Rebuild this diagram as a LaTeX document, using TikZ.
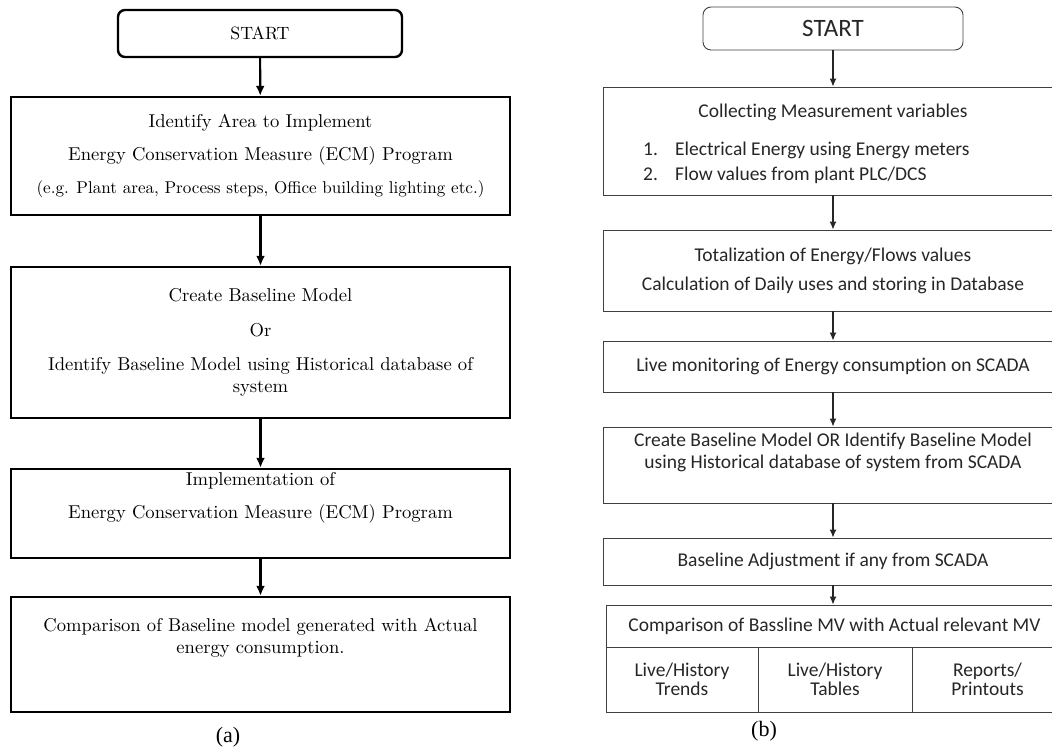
\documentclass[tikz,border=0pt]{standalone}
\usepackage{fontspec}
\usepackage{tikz}
\usetikzlibrary{shapes, calc, arrows, arrows.meta, positioning}
\newfontfamily\calibri[Ligatures=NoCommon]{Carlito}
\newfontfamily\timesfont{Liberation Serif}
\newfontfamily\lmten{lmroman10-regular}[Extension=.otf]

\begin{document}
\begin{tikzpicture}[->,>=latex,x=1pt,y=-1pt,auto]
	\tikzset{boxa/.style={draw, rectangle, line width=2.4pt, minimum width=499pt, inner sep=0pt, align=center, font=\lmten\fontsize{18.6}{22}\selectfont}}
	\tikzset{boxb/.style={draw=black!75, rectangle, line width=0.9pt, minimum width=460pt, inner sep=0pt, align=center, text=black!85, font=\calibri\fontsize{19.5}{23.5}\selectfont}}
	\tikzset{cellb/.style={boxb, minimum height=65pt, font=\calibri\fontsize{19.5}{19}\selectfont}}
	\tikzset{txta/.style={inner sep=0pt, align=center, font=\lmten\fontsize{18.6}{22}\selectfont}}
	\tikzset{txtb/.style={inner sep=0pt, align=left, text=black!85, font=\calibri\fontsize{19.5}{25}\selectfont}}
	\clip (0,0) rectangle (1052,750);
	% (a)
	\node[boxa, rounded corners=7pt, minimum width=284pt, minimum height=47pt, font=\lmten\fontsize{17.8}{20}\selectfont] (starta) at (260,33.5) {START};
	\node[boxa, minimum height=118pt] (areaa) at (260.5,156) {Identify Area to Implement\\[11pt]Energy Conservation Measure (ECM) Program\\[11pt]{\fontsize{17.1}{20}\selectfont (e.g. Plant area, Process steps, Office building lighting etc.)}};
	\node[boxa, minimum height=151pt] (basea) at (260.5,342.5) {Create Baseline Model\\[13pt]Or\\[12pt]Identify Baseline Model using Historical database of\\system};
	\node[boxa, minimum height=89pt] (impla) at (260.5,513.5) {};
	\node[txta] (impltxt) at (260.5,497.5) {Implementation of\\[11pt]Energy Conservation Measure (ECM) Program};
	\node[boxa, minimum height=115pt] (compa) at (260.5,654.5) {};
	\node[txta] (comptxt) at (260.5,638) {Comparison of Baseline model generated with Actual\\energy consumption.};
	\node[inner sep=0pt, font=\timesfont\fontsize{22}{26}\selectfont] (capa) at (228,737) {(a)};
	\path[line width=2.2pt, -{Latex[length=10pt,width=9pt]}]
		(starta) edge (areaa)
		(areaa) edge (basea)
		(basea) edge (impla)
		(impla) edge (compa);
	% (b)
	\node[boxb, rounded corners=8pt, minimum width=260pt, minimum height=43pt, font=\calibri\fontsize{25}{30}\selectfont] (startb) at (833,28.5) {START};
	\node[boxb, minimum height=108pt] (collb) at (833,141) {};
	\node[txtb, align=center] (colltitle) at (833,112) {Collecting Measurement variables};
	\node[txtb, anchor=west] (colllist) at (643,162.5) {\makebox[32pt][l]{1.}Electrical Energy using Energy meters\\\makebox[32pt][l]{2.}Flow values from plant PLC/DCS};
	\node[boxb, minimum height=81pt] (totb) at (833,270.5) {Totalization of Energy/Flows values\\[5.5pt]Calculation of Daily uses and storing in Database};
	\node[boxb, minimum height=51pt] (liveb) at (833,366.5) {Live monitoring of Energy consumption on SCADA};
	\node[boxb, minimum height=76pt, font=\calibri\fontsize{19.5}{22.5}\selectfont] (createb) at (833,465) {Create Baseline Model OR Identify Baseline Model\\using Historical database of system from SCADA\\[6pt]};
	\node[boxb, minimum height=47pt] (adjb) at (833,561.5) {Baseline Adjustment if any from SCADA};
	\node[boxb, minimum width=457pt, minimum height=42pt] (compb) at (834.5,626) {Comparison of Bassline MV with Actual relevant MV};
	\node[cellb, minimum width=152pt] (trendb) at (682,679.5) {Live/History\\Trends};
	\node[cellb, minimum width=154pt] (tableb) at (835,679.5) {Live/History\\Tables};
	\node[cellb, minimum width=151pt] (reportb) at (987.5,679.5) {Reports/\\Printouts};
	\node[inner sep=0pt, font=\timesfont\fontsize{22}{26}\selectfont] (capb) at (764,731) {(b)};
	\path[line width=1.2pt, black!85, -{Latex[length=8pt,width=7pt]}]
		(startb) edge (collb)
		(collb) edge (totb)
		(totb) edge (liveb)
		(liveb) edge (createb)
		(createb) edge (adjb)
		(adjb.south) edge (adjb.south |- compb.north);
\end{tikzpicture}
\end{document}
